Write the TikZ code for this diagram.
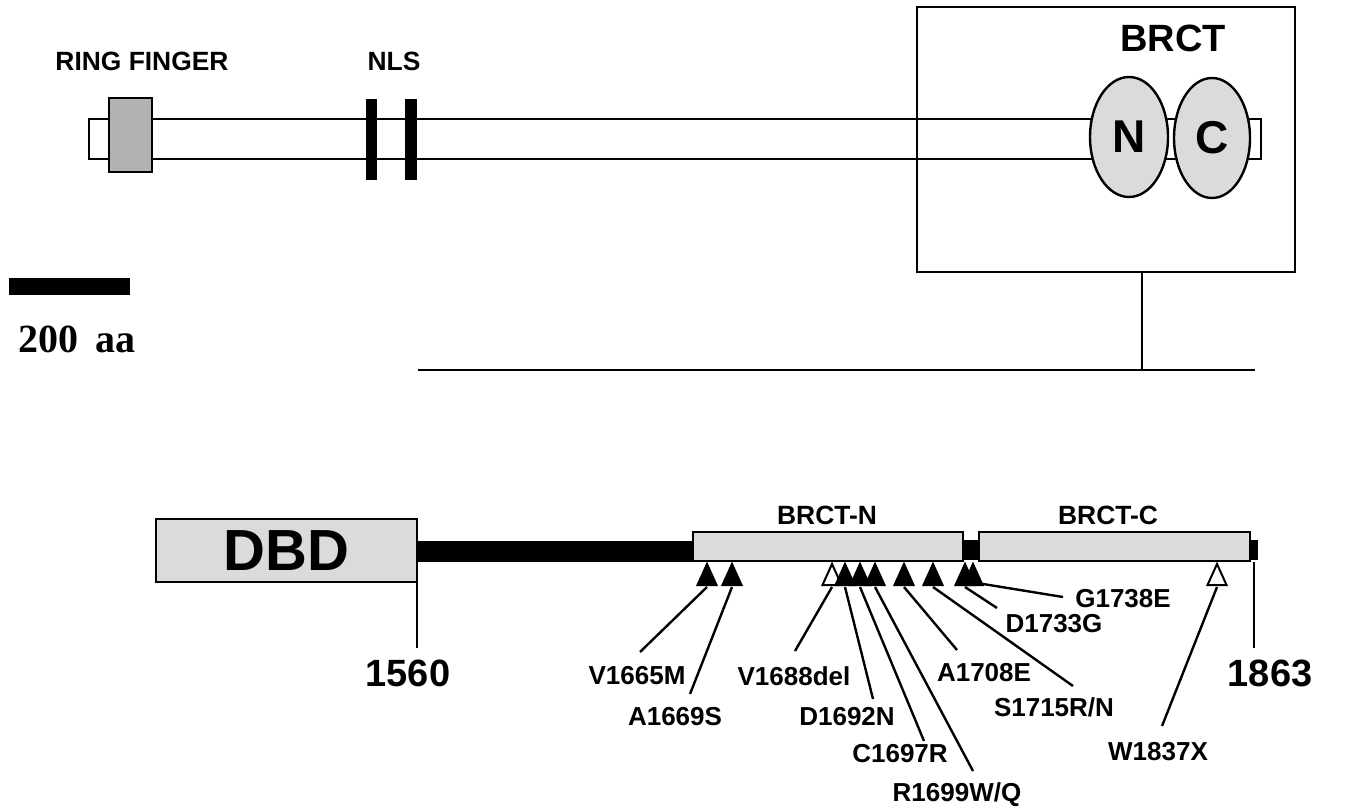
\documentclass[tikz,border=0pt]{standalone}
\usepackage{fontspec}
\setmainfont{Liberation Sans}
\newfontfamily\scalefont{Liberation Serif}
\usepackage{tikz}
\usetikzlibrary{shapes.geometric}

\begin{document}
\begin{tikzpicture}[
  x=0.5pt, y=-0.5pt,
  frame/.style={draw, line width=1.4pt},
  dombox/.style={draw, line width=1.4pt, fill=black!14},
  lobe/.style={draw, line width=1.2pt, fill=black!14, ellipse, inner sep=0pt, minimum width=39pt, minimum height=60pt},
  lbl/.style={font=\fontsize{13.2}{15}\selectfont\bfseries, inner sep=0pt},
  mutlbl/.style={font=\fontsize{13}{15}\selectfont\bfseries, inner sep=0pt},
  poslbl/.style={font=\fontsize{19}{22}\selectfont\bfseries, inner sep=0pt},
  mut/.style={draw, line width=1pt, line join=miter},
  leader/.style={line width=1.2pt}
]
\useasboundingbox (0,0) rectangle (1358,808);

% full-length protein
\draw[frame, fill=white] (89,119) rectangle (1261,159);
\draw[frame, fill=black!30] (109,98) rectangle (152,172);
\fill (366,99) rectangle (377,180);
\fill (405,99) rectangle (417,180);
\node[lbl] (ring) at (142,61) {RING FINGER};
\node[lbl] (nls) at (394,61) {NLS};

\node[frame, minimum width=189pt, minimum height=132.5pt, inner sep=0pt] (brct) at (1106,139.5) {};
\node[font=\fontsize{19}{22}\selectfont\bfseries, inner sep=0pt] (brcttxt) at (1173,38) {BRCT};
\node[lobe] (lobeN) at (1129,137) {};
\node[lobe, minimum width=38pt] (lobeC) at (1212,138) {};
\node[font=\fontsize{23}{26}\selectfont\bfseries, inner sep=0pt] at (lobeN) {N};
\node[font=\fontsize{23}{26}\selectfont\bfseries, inner sep=0pt] at (lobeC) {C};

% scale bar
\fill (9,278) rectangle (130,295);
\node[font=\scalefont\fontsize{20}{24}\selectfont\bfseries, inner sep=0pt] (aa) at (77,339) {200\ \,aa};

% zoom bracket
\coordinate (zoomtop) at (1142,370);
\draw[line width=1.2pt] (brct.south -| zoomtop) -- (zoomtop);
\draw[line width=1.4pt] (418,370) -- (1255,370);

% C-terminal region
\node[dombox, minimum width=130.5pt, minimum height=31.5pt, inner sep=0pt,
  font=\fontsize{29}{32}\selectfont\bfseries] (dbd) at (286.5,550.5) {DBD};
\fill (417,541) rectangle (695,562);
\node[dombox, minimum width=135pt, minimum height=14.5pt, inner sep=0pt] (brctN) at (828,546.5) {};
\fill (963,540) rectangle (980,560);
\node[dombox, minimum width=135.5pt, minimum height=14.5pt, inner sep=0pt] (brctC) at (1114.5,546.5) {};
\fill (1250,540) rectangle (1258,560);
\node[lbl] at (827,515) {BRCT-N};
\node[lbl] at (1108,515) {BRCT-C};

\coordinate (t1560) at (417,648);
\coordinate (t1863) at (1254,648);
\draw[line width=1.4pt] (dbd.south -| t1560) -- (t1560);
\draw[line width=1.4pt] (brctC.south -| t1863) -- (t1863);
\node[poslbl] (p1560) at (408,673) {1560};
\node[poslbl] (p1863) at (1270,673) {1863};

% mutations
\foreach \x/\f/\n in {707/black/t1, 732/black/t2, 832/white/t3, 845/black/t4,
  860/black/t5, 875/black/t6, 904/black/t7, 933/black/t8, 965/black/t9,
  973/black/t10, 1217/white/t11} {
  \draw[mut, fill=\f] (\x,564) -- (\x+9.5,585) -- (\x-9.5,585) -- cycle;
  \coordinate (\n) at (\x,587);
}

\node[mutlbl] (v1665m) at (637,676) {V1665M};
\node[mutlbl] (a1669s) at (675,717) {A1669S};
\node[mutlbl] (v1688del) at (794,676) {V1688del};
\node[mutlbl] (d1692n) at (847,717) {D1692N};
\node[mutlbl] (c1697r) at (900,754) {C1697R};
\node[mutlbl] (r1699wq) at (957,795) {R1699W/Q};
\node[mutlbl] (a1708e) at (984,673) {A1708E};
\node[mutlbl] (s1715rn) at (1054,707) {S1715R/N};
\node[mutlbl] (d1733g) at (1054,624) {D1733G};
\node[mutlbl] (g1738e) at (1123,599) {G1738E};
\node[mutlbl] (w1837x) at (1158,752) {W1837X};

\coordinate (e1) at (640,652);
\coordinate (e2) at (690,694);
\coordinate (e3) at (795,651);
\coordinate (e4) at (873,699);
\coordinate (e5) at (924,741);
\coordinate (e6) at (973,771);
\coordinate (e7) at (957,650);
\coordinate (e8) at (1073,686);
\coordinate (e9) at (997,608);
\coordinate (e10) at (1063,597);
\coordinate (e11) at (1162,726);

\draw[leader] (t1) -- (e1);
\draw[leader] (t2) -- (e2);
\draw[leader] (t3) -- (e3);
\draw[leader] (t4) -- (e4);
\draw[leader] (t5) -- (e5);
\draw[leader] (t6) -- (e6);
\draw[leader] (t7) -- (e7);
\draw[leader] (t8) -- (e8);
\draw[leader] (t9) -- (e9);
\draw[leader] ([xshift=2pt,yshift=2pt]t10) -- (e10);
\draw[leader] (t11) -- (e11);
\end{tikzpicture}
\end{document}
